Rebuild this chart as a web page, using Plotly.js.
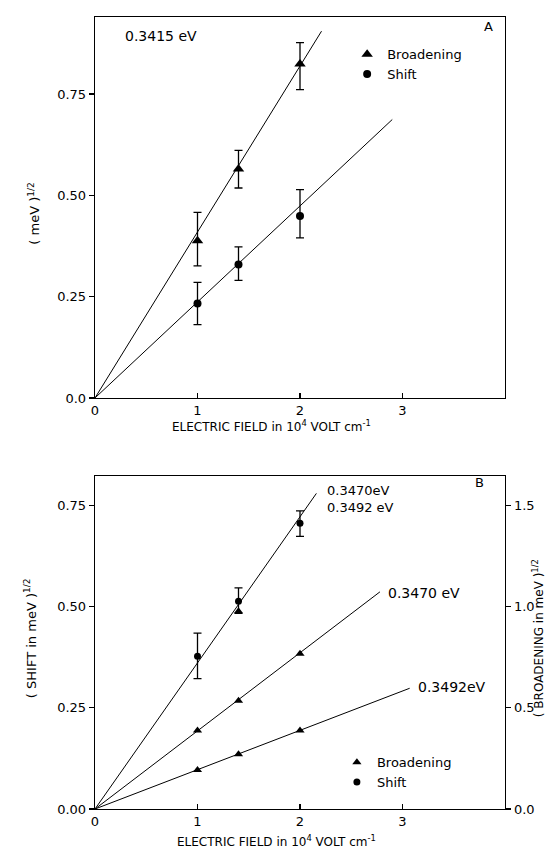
<!DOCTYPE html>
<html>
<head>
<meta charset="utf-8">
<script src="https://cdn.plot.ly/plotly-3.0.1.min.js"></script>
<style>html,body{margin:0;padding:0;background:#fff;}#chart{width:545px;height:848px;}</style>
</head>
<body>
<div id="chart"></div>
<script>
// ---------- Panel A data (0.3415 eV) ----------
const fieldA = [1.0, 1.4, 2.0];
const broadA = [0.388, 0.565, 0.824];
const broadA_errPlus = [0.070, 0.046, 0.053];
const broadA_errMinus = [0.062, 0.047, 0.063];
const shiftA = [0.233, 0.329, 0.449];
const shiftA_errPlus = [0.052, 0.044, 0.065];
const shiftA_errMinus = [0.052, 0.039, 0.054];
const fitA_broad_x = [0, 2.21];
const fitA_broad_y = [0, 0.905];
const fitA_shift_x = [0, 2.90];
const fitA_shift_y = [0, 0.687];

// ---------- Panel B data ----------
const fieldB = [1.0, 1.4, 2.0];
const shiftB = [0.377, 0.513, 0.705];            // left axis
const shiftB_errPlus = [0.057, 0.033, 0.031];
const shiftB_errMinus = [0.055, 0.030, 0.032];
const broadB_3470 = [0.388, 0.534, 0.766];       // right axis
const broadB_3492 = [0.192, 0.270, 0.388];       // right axis
const broadB_extra_x = [1.4];
const broadB_extra_y = [0.976];                  // right axis
const fitB_shift_x = [0, 2.16];
const fitB_shift_y = [0, 0.779];
const fitB_3470_x = [0, 2.78];
const fitB_3470_y = [0, 1.072];
const fitB_3492_x = [0, 3.07];
const fitB_3492_y = [0, 0.596];

const xTicks = [0, 1, 2, 3];
const xTickText = ['0', '1', '2', '3'];
const yTicksA = [0, 0.25, 0.5, 0.75];
const yTickTextA = ['0.0', '0.25', '0.50', '0.75'];
const yTicksB = [0, 0.25, 0.5, 0.75];
const yTickTextB = ['0.00', '0.25', '0.50', '0.75'];
const yTicksBR = [0, 0.5, 1.0, 1.5];
const yTickTextBR = ['0.0', '0.5', '1.0', '1.5'];

const K = 'black';
const lineStyle = {color: K, width: 1};
function errBar(p, m) {
  return {type: 'data', symmetric: false, array: p, arrayminus: m, color: K, thickness: 1.3, width: 4};
}

const traces = [
  // Panel A
  {x: fitA_broad_x, y: fitA_broad_y, mode: 'lines', line: lineStyle, xaxis: 'x', yaxis: 'y', showlegend: false, hoverinfo: 'skip'},
  {x: fitA_shift_x, y: fitA_shift_y, mode: 'lines', line: lineStyle, xaxis: 'x', yaxis: 'y', showlegend: false, hoverinfo: 'skip'},
  {x: fieldA, y: broadA, name: 'Broadening', mode: 'markers', marker: {symbol: 'triangle-up', size: 10, color: K},
   error_y: errBar(broadA_errPlus, broadA_errMinus), xaxis: 'x', yaxis: 'y', legend: 'legend'},
  {x: fieldA, y: shiftA, name: 'Shift', mode: 'markers', marker: {symbol: 'circle', size: 8, color: K},
   error_y: errBar(shiftA_errPlus, shiftA_errMinus), xaxis: 'x', yaxis: 'y', legend: 'legend'},
  // Panel B
  {x: fitB_shift_x, y: fitB_shift_y, mode: 'lines', line: lineStyle, xaxis: 'x2', yaxis: 'y2', showlegend: false, hoverinfo: 'skip'},
  {x: fitB_3470_x, y: fitB_3470_y, mode: 'lines', line: lineStyle, xaxis: 'x2', yaxis: 'y3', showlegend: false, hoverinfo: 'skip'},
  {x: fitB_3492_x, y: fitB_3492_y, mode: 'lines', line: lineStyle, xaxis: 'x2', yaxis: 'y3', showlegend: false, hoverinfo: 'skip'},
  {x: fieldB, y: broadB_3470, name: 'Broadening', mode: 'markers', marker: {symbol: 'triangle-up', size: 8, color: K},
   xaxis: 'x2', yaxis: 'y3', legend: 'legend2'},
  {x: fieldB, y: broadB_3492, name: 'Broadening 0.3492', mode: 'markers', marker: {symbol: 'triangle-up', size: 8, color: K},
   xaxis: 'x2', yaxis: 'y3', showlegend: false},
  {x: broadB_extra_x, y: broadB_extra_y, name: 'Broadening extra', mode: 'markers', marker: {symbol: 'triangle-up', size: 8, color: K},
   xaxis: 'x2', yaxis: 'y3', showlegend: false},
  {x: fieldB, y: shiftB, name: 'Shift', mode: 'markers', marker: {symbol: 'circle', size: 7, color: K},
   error_y: errBar(shiftB_errPlus, shiftB_errMinus), xaxis: 'x2', yaxis: 'y2', legend: 'legend2'}
];

const axisCommon = {showline: true, linecolor: K, linewidth: 1.3, showgrid: false, zeroline: false,
  tickcolor: K, tickwidth: 1.2, ticklen: 5, tickfont: {size: 13, color: K}};

const layout = {
  width: 545, height: 848,
  margin: {l: 95, r: 40, t: 17, b: 39},
  paper_bgcolor: 'white', plot_bgcolor: 'white',
  font: {family: 'DejaVu Sans, sans-serif', size: 12, color: K},
  showlegend: true,
  xaxis: Object.assign({}, axisCommon, {domain: [0, 1], anchor: 'y', range: [0, 4], tickvals: xTicks, ticktext: xTickText, ticks: 'inside', mirror: true}),
  yaxis: Object.assign({}, axisCommon, {domain: [0.519, 1], anchor: 'x', range: [0, 0.94], tickvals: yTicksA, ticktext: yTickTextA, ticks: 'outside', mirror: true}),
  xaxis2: Object.assign({}, axisCommon, {domain: [0, 1], anchor: 'y2', range: [0, 4], tickvals: xTicks, ticktext: xTickText, ticks: 'inside', mirror: true}),
  yaxis2: Object.assign({}, axisCommon, {domain: [0, 0.4205], anchor: 'x2', range: [0, 0.822], tickvals: yTicksB, ticktext: yTickTextB, ticks: 'outside', mirror: true}),
  yaxis3: Object.assign({}, axisCommon, {overlaying: 'y2', side: 'right', anchor: 'x2', range: [0, 1.644], tickvals: yTicksBR, ticktext: yTickTextBR, ticks: 'outside'}),
  legend: {x: 0.615, y: 0.972, xanchor: 'left', yanchor: 'top', bgcolor: 'rgba(0,0,0,0)', font: {size: 13}, itemwidth: 30, tracegroupgap: 0},
  legend2: {x: 0.59, y: 0.078, xanchor: 'left', yanchor: 'top', bgcolor: 'rgba(0,0,0,0)', font: {size: 13}, itemwidth: 30, tracegroupgap: 0},
  annotations: [
    {text: '0.3415 eV', xref: 'x', yref: 'y', x: 0.27, y: 0.894, xanchor: 'left', showarrow: false, font: {size: 14}},
    {text: 'A', xref: 'x', yref: 'y', x: 3.84, y: 0.917, showarrow: false, font: {size: 13}},
    {text: 'B', xref: 'x2', yref: 'y2', x: 3.75, y: 0.806, showarrow: false, font: {size: 13}},
    {text: '0.3470eV<br>0.3492 eV', xref: 'x2', yref: 'y2', x: 2.24, y: 0.766, xanchor: 'left', yanchor: 'middle', align: 'left', showarrow: false, font: {size: 13}},
    {text: '0.3470 eV', xref: 'x2', yref: 'y2', x: 2.84, y: 0.533, xanchor: 'left', showarrow: false, font: {size: 14}},
    {text: '0.3492eV', xref: 'x2', yref: 'y2', x: 3.13, y: 0.302, xanchor: 'left', showarrow: false, font: {size: 14}},
    {text: 'ELECTRIC FIELD in 10<sup>4</sup> VOLT cm<sup>-1</sup>', xref: 'x', yref: 'paper', x: 0.73, y: 0.483, xanchor: 'left', yanchor: 'middle', showarrow: false, font: {size: 12}},
    {text: 'ELECTRIC FIELD in 10<sup>4</sup> VOLT cm<sup>-1</sup>', xref: 'x2', yref: 'paper', x: 0.78, y: -0.041, xanchor: 'left', yanchor: 'middle', showarrow: false, font: {size: 12}},
    {text: '( meV )<sup>1/2</sup>', xref: 'paper', yref: 'paper', x: -0.148, y: 0.752, xanchor: 'center', yanchor: 'middle', textangle: -90, showarrow: false, font: {size: 13}},
    {text: '( SHIFT in meV )<sup>1/2</sup>', xref: 'paper', yref: 'paper', x: -0.158, y: 0.216, xanchor: 'center', yanchor: 'middle', textangle: -90, showarrow: false, font: {size: 13}},
    {text: '( BROADENING in meV )<sup>1/2</sup>', xref: 'paper', yref: 'paper', x: 1.081, y: 0.216, xanchor: 'center', yanchor: 'middle', textangle: -90, showarrow: false, font: {size: 12}}
  ]
};

Plotly.newPlot('chart', traces, layout, {staticPlot: true, displayModeBar: false});
</script>
</body>
</html>
